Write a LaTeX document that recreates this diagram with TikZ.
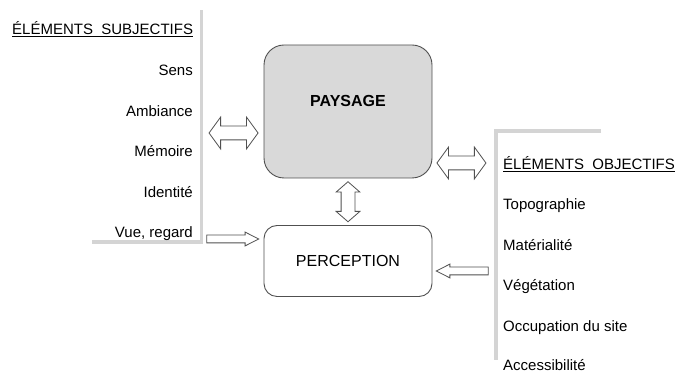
\documentclass[tikz,border=0pt]{standalone}
\usepackage{fontspec}
\setmainfont{Liberation Sans}
\usetikzlibrary{shapes.arrows,calc}
\definecolor{barGray}{HTML}{D4D4D4}
\definecolor{boxGray}{HTML}{D9D9D9}
\definecolor{lineGray}{HTML}{505050}
\tikzset{
  item/.style={font=\fontsize{15}{18}\selectfont, inner sep=0pt},
  box/.style={draw=lineGray, line width=0.9pt, minimum width=168pt},
  hollow/.style={draw=lineGray, fill=white, line width=0.8pt},
  dblarrow/.style={hollow, double arrow, double arrow tip angle=108, inner sep=6.5pt,
    double arrow head extend=9pt, minimum width=31pt, minimum height=49pt},
  onearrow/.style={hollow, single arrow, single arrow tip angle=54, inner sep=3.5pt,
    single arrow head extend=3pt, minimum width=13pt, minimum height=52pt}
}
\begin{document}
\begin{tikzpicture}[x=1pt,y=1pt]
  \useasboundingbox (0,0) rectangle (675,374);
  % grey brackets round the two lists
  \draw[barGray, line width=3.5pt] (92,132) -- (201.5,132) -- (201.5,364);
  \draw[barGray, line width=3.5pt] (601,243) -- (496,243) -- (496,14);
  % the two boxes
  \node[box, fill=boxGray, rounded corners=20pt, minimum height=133pt,
    label={[font=\fontsize{16}{19}\selectfont\bfseries, yshift=10.5pt]center:PAYSAGE}]
    (paysage) at (348,262.5) {};
  \node[box, rounded corners=13pt, minimum height=71pt,
    font=\fontsize{16}{19}\selectfont] (perception) at (348,113) {PERCEPTION};
  % subjective side
  \node[item, anchor=base west] (subj) at (12,339) {\underline{ÉLÉMENTS~~SUBJECTIFS}};
  \def \Subjectifs{
    sens/298/Sens,
    ambiance/257.5/Ambiance,
    memoire/217/Mémoire,
    identite/176.5/Identité,
    vue/136/{Vue, regard}}
  \foreach \id / \y / \txt in \Subjectifs{
    \node[item, anchor=base east] (\id) at (193,\y) {\txt};
  }
  % objective side
  \node[item, anchor=base west] (obj) at (503,204) {\underline{ÉLÉMENTS~~OBJECTIFS}};
  \def \Objectifs{
    topo/164/Topographie,
    mat/123.5/Matérialité,
    veg/83/Végétation,
    occ/42.5/Occupation du site,
    acc/3.5/Accessibilité}
  \foreach \id / \y / \txt in \Objectifs{
    \node[item, anchor=base west] (\id) at (503,\y) {\txt};
  }
  % hollow arrows
  \node[dblarrow, anchor=east] (subjpay) at ([xshift=-5pt,yshift=-21.5pt]paysage.west) {};
  \node[dblarrow, anchor=west] (payobj) at ([xshift=4pt,yshift=-51.5pt]paysage.east) {};
  \node[dblarrow, shape border rotate=90, minimum height=40pt, minimum width=23pt,
    double arrow head extend=5pt, double arrow tip angle=98]
    (payper) at ($(paysage.south)!0.5!(perception.north)$) {};
  \node[onearrow, anchor=tip] (subjper) at ([xshift=-4pt,yshift=22pt]perception.west) {};
  \node[onearrow, shape border rotate=180, anchor=tip] (objper)
    at ([xshift=3pt,yshift=-10pt]perception.east) {};
\end{tikzpicture}
\end{document}
